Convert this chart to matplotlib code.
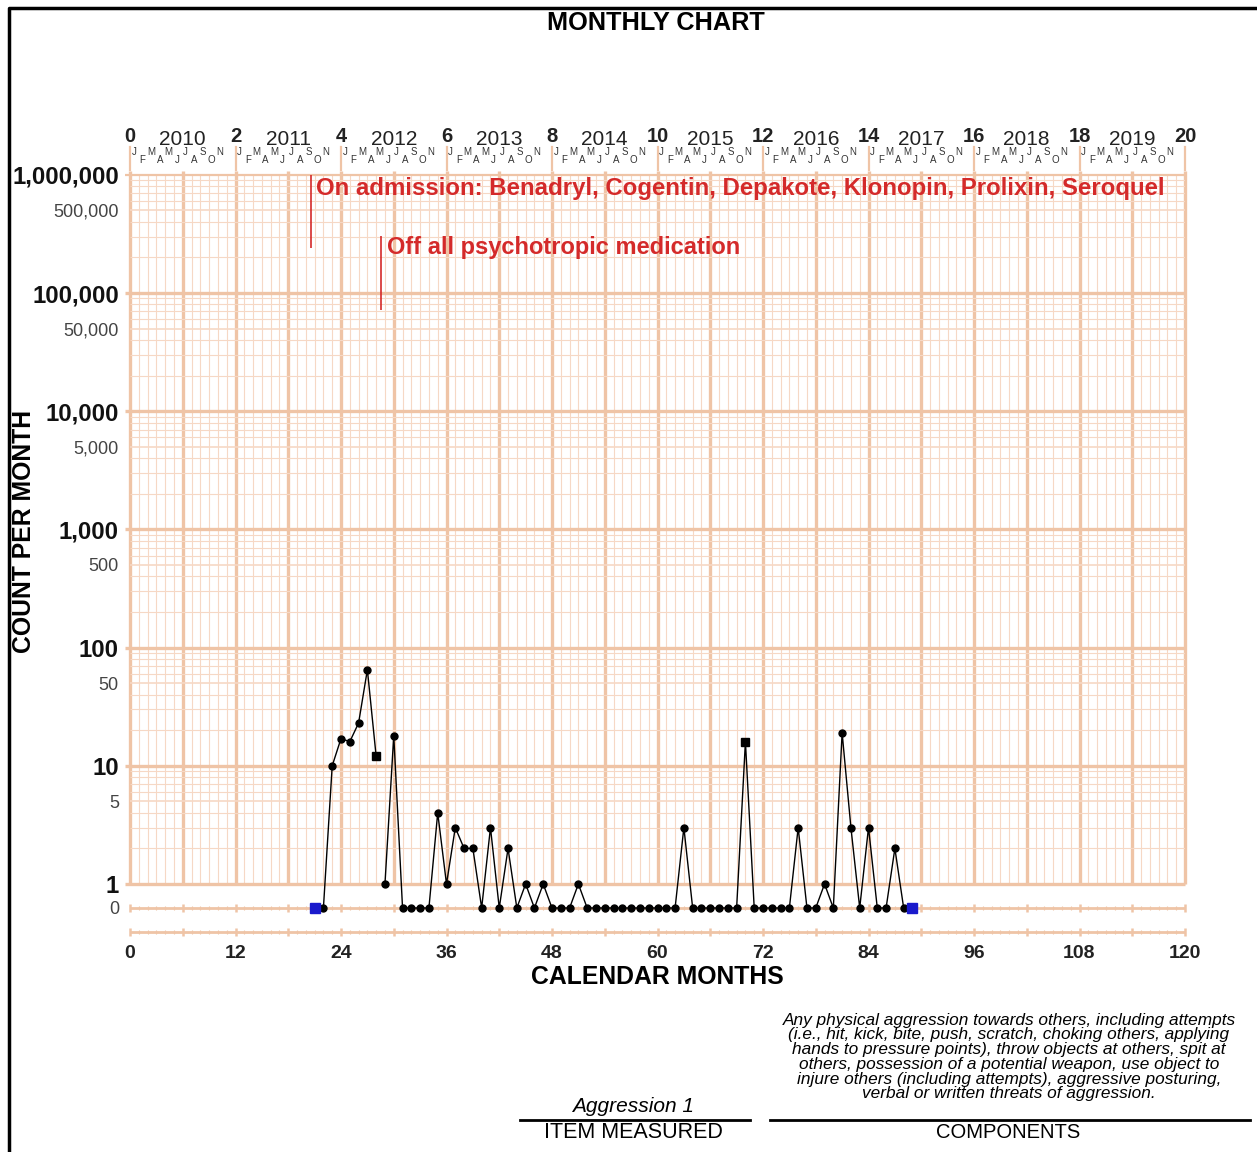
import numpy as np
import matplotlib.pyplot as plt
from matplotlib.lines import Line2D

plt.rcParams['font.family'] = ['Liberation Sans', 'DejaVu Sans']

# monthly counts (calendar months from Jan 2010)
phase1_months = [22, 23, 24, 25, 26, 27, 28]
phase1_counts = [0, 10, 17, 16, 23, 65, 12]
phase2_months = list(range(29, 89))
phase2_counts = [1, 18, 0, 0, 0, 0, 4, 1, 3, 2, 2, 0, 3, 0, 2, 0, 1, 0, 1, 0,
                 0, 0, 1, 0, 0, 0, 0, 0, 0, 0, 0, 0, 0, 0, 3, 0, 0, 0, 0, 0,
                 0, 16, 0, 0, 0, 0, 0, 3, 0, 0, 1, 0, 19, 3, 0, 3, 0, 0, 2, 0]
square_months = [28, 70]
start_end_months = [21, 89]

top_numbers = list(range(0, 21, 2))
years = list(range(2010, 2020))
month_letters = ['J', 'F', 'M', 'A', 'M', 'J', 'J', 'A', 'S', 'O', 'N']
bottom_ticks = list(range(0, 121, 12))
major_y = [1e6, 1e5, 1e4, 1e3, 100, 10, 1]
major_y_labels = ['1,000,000', '100,000', '10,000', '1,000', '100', '10', '1']
minor_y = [5e5, 5e4, 5e3, 500, 50, 5]
minor_y_labels = ['500,000', '50,000', '5,000', '500', '50', '5']

DEC = 118.2  # pixels per decade in the reference
ZERO_Y = 10 ** (-24 / DEC)
BOTTOM_Y = 10 ** (-48 / DEC)

W, H = 1257, 1152
fig = plt.figure(figsize=(W / 100, H / 100), dpi=100)
ax = fig.add_axes([130 / W, (H - 938) / H, 1055 / W, 768 / H])
ax.set_yscale('log')
ax.set_xlim(0, 120)
ax.set_ylim(10 ** (-54 / DEC), 10 ** (714 / DEC))
for s in ax.spines.values():
    s.set_visible(False)

thin_c = '#f6d8c5'
thick_c = '#efc4a6'

# vertical grid
for m in range(121):
    if m % 6 == 0:
        ax.vlines(m, 1, 1.08e6, color=thick_c, lw=2.4, clip_on=False, zorder=1)
    else:
        ax.vlines(m, 1, 1e6, color=thin_c, lw=0.8, zorder=1)
# horizontal grid
for d in range(6):
    for k in range(1, 10):
        y = k * 10 ** d
        if k == 1:
            ax.hlines(y, -0.6, 120, color=thick_c, lw=2.4, clip_on=False, zorder=1)
        elif k == 5:
            ax.hlines(y, 0, 120, color=thin_c, lw=1.2, zorder=1)
        else:
            ax.hlines(y, 0, 120, color=thin_c, lw=0.8, zorder=1)
ax.hlines(1e6, -0.6, 120, color=thick_c, lw=1.6, clip_on=False, zorder=1)

# zero row and bottom row
for yr in [ZERO_Y, BOTTOM_Y]:
    ax.hlines(yr, 0, 120, color=thick_c, lw=2.0, zorder=1)
    for m in range(121):
        h = 0.035 if m % 6 == 0 else 0.018
        ax.vlines(m, yr * 10 ** -h, yr * 10 ** h, color=thick_c,
                  lw=1.8 if m % 6 == 0 else 0.8, zorder=1, clip_on=False)

# top calendar scale
tr = ax.get_xaxis_transform()
for i, n in enumerate(top_numbers):
    ax.text(i * 12, 1.043, str(n), transform=tr, ha='center', va='center',
            fontsize=14.5, fontweight='bold', color='#222222')
    ax.plot([i * 12, i * 12], [1.0, 1.03], transform=tr, color=thick_c,
            lw=1.6, clip_on=False)
for i, yr in enumerate(years):
    ax.text(i * 12 + 6, 1.040, str(yr), transform=tr, ha='center', va='center',
            fontsize=15, color='#222222')
    for j, ml in enumerate(month_letters):
        yy = 1.023 if j % 2 == 0 else 1.013
        ax.text(i * 12 + j * 0.98 + 0.45, yy, ml, transform=tr, ha='center',
                va='center', fontsize=7, color='#333333')

# y ticks
ax.set_yticks(major_y + minor_y + [ZERO_Y],
              major_y_labels + minor_y_labels + ['0'])
ax.minorticks_off()
ax.tick_params(axis='y', length=0, pad=8)
for lab in ax.get_yticklabels():
    if lab.get_text() in major_y_labels:
        lab.set_fontsize(17.3)
        lab.set_fontweight('bold')
        lab.set_color('#111111')
    else:
        lab.set_fontsize(13)
        lab.set_color('#444444')
ax.set_xticks(bottom_ticks, [str(t) for t in bottom_ticks])
ax.tick_params(axis='x', length=0, pad=5, labelsize=14)
for lab in ax.get_xticklabels():
    lab.set_fontweight('bold')
    lab.set_color('#222222')


def yv(vals):
    return [v if v > 0 else ZERO_Y for v in vals]


ax.plot(phase1_months, yv(phase1_counts), color='black', lw=1.0, marker='o',
        ms=5, zorder=5, clip_on=False)
ax.plot(phase2_months, yv(phase2_counts), color='black', lw=1.0, marker='o',
        ms=5, zorder=5, clip_on=False)
all_m = phase1_months + phase2_months
all_c = phase1_counts + phase2_counts
sq_vals = [all_c[all_m.index(m)] for m in square_months]
ax.plot(square_months, yv(sq_vals), ls='none', marker='s', ms=5.5,
        color='black', zorder=6)
ax.plot(start_end_months, [ZERO_Y] * len(start_end_months), ls='none',
        marker='s', ms=7, color='#1a1acc', zorder=7)

# phase change annotations
red = '#d42a2a'
ax.vlines(20.6, 10 ** 5.38, 10 ** 6.0, color=red, lw=1.2, zorder=6)
ax.text(21.15, 10 ** 5.888, 'On admission: Benadryl, Cogentin, Depakote, Klonopin, Prolixin, Seroquel',
        color=red, fontsize=17.3, fontweight='bold', va='center', ha='left', zorder=6)
ax.vlines(28.55, 10 ** 4.856, 10 ** 5.482, color=red, lw=1.2, zorder=6)
ax.text(29.2, 10 ** 5.381, 'Off all psychotropic medication',
        color=red, fontsize=17, fontweight='bold', va='center', ha='left', zorder=6)

# figure texts
fig.text(656 / W, 1 - 23 / H, 'MONTHLY CHART', ha='center', va='center',
         fontsize=18.2, fontweight='bold')
fig.text(24 / W, 1 - 531 / H, 'COUNT PER MONTH', ha='center', va='center',
         rotation=90, fontsize=17.8, fontweight='bold')
fig.text(657 / W, 1 - 977 / H, 'CALENDAR MONTHS', ha='center', va='center',
         fontsize=17.8, fontweight='bold')

fig.text(633 / W, 1 - 1107 / H, 'Aggression 1', ha='center', va='center',
         fontsize=15, style='italic')
fig.text(633 / W, 1 - 1132 / H, 'ITEM MEASURED', ha='center', va='center',
         fontsize=15.5)
components = ('Any physical aggression towards others, including attempts\n'
              '(i.e., hit, kick, bite, push, scratch, choking others, applying\n'
              'hands to pressure points), throw objects at others, spit at\n'
              'others, possession of a potential weapon, use object to\n'
              'injure others (including attempts), aggressive posturing,\n'
              'verbal or written threats of aggression.')
fig.text(1009 / W, 1 - 1057 / H, components, ha='center', va='center',
         fontsize=12.4, style='italic', linespacing=0.98)
fig.text(1008 / W, 1 - 1132 / H, 'COMPONENTS', ha='center', va='center',
         fontsize=14.5)
fig.add_artist(Line2D([520 / W, 750 / W], [1 - 1120 / H] * 2, color='black', lw=2))
fig.add_artist(Line2D([770 / W, 1250 / W], [1 - 1120 / H] * 2, color='black', lw=2))

# page border
fig.add_artist(Line2D([9 / W, 9 / W, 1 / 1], [0, 1 - 8 / H, 1 - 8 / H],
                      color='black', lw=2.5))

fig.savefig('out.png', dpi=100)
